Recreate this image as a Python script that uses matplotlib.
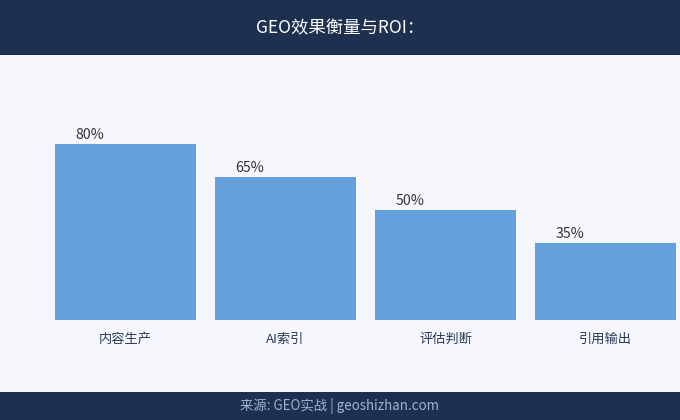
import matplotlib
matplotlib.use("Agg")
import matplotlib.pyplot as plt
from matplotlib.patches import Rectangle

plt.rcParams['font.family'] = ['Noto Sans CJK SC', 'DejaVu Sans']

categories = ["内容生产", "AI索引", "评估判断", "引用输出"]
values = [80, 65, 50, 35]
value_labels = ["80%", "65%", "50%", "35%"]
title = "GEO效果衡量与ROI："
footer = "来源: GEO实战 | geoshizhan.com"

W, H = 680, 420
fig = plt.figure(figsize=(W / 100, H / 100), dpi=100)
fig.patch.set_facecolor("#f6f7fc")

# header and footer bands
fig.patches.append(Rectangle((0, 1 - 55 / H), 1, 55 / H, transform=fig.transFigure,
                             facecolor="#1e3050", edgecolor="none", zorder=0))
fig.patches.append(Rectangle((0, 0), 1, 28 / H, transform=fig.transFigure,
                             facecolor="#1e3050", edgecolor="none", zorder=0))
fig.text(0.5, 1 - 28 / H, title, color="white", fontsize=12.5,
         ha="center", va="center")
fig.text(0.5, 14 / H, footer, color="#9fb2cf", fontsize=9.6,
         ha="center", va="center")

# axes: x from px 45 to 680, y from px 320 (value 0) to px 100 (value 100)
ax = fig.add_axes([45 / W, 100 / H, 635 / W, 220 / H])
ax.set_facecolor("none")
x = list(range(len(categories)))
width = 141 / 160
ax.bar(x, values, width=width, color="#64a0dc")
ax.set_xlim((45 - 125.5) / 160, (680 - 125.5) / 160)
ax.set_ylim(0, 100)
for xi, v, lab in zip(x, values, value_labels):
    ax.annotate(lab, (xi - width / 2, v), xytext=(14.5, 1.5), textcoords="offset points",
                ha="left", va="bottom", fontsize=10.2, color="#333333",
                annotation_clip=False)
ax.set_xticks(x)
ax.set_xticklabels(categories, fontsize=9.5, color="#2a3a55")
ax.tick_params(axis="x", length=0, pad=9)
ax.set_yticks([])
for s in ax.spines.values():
    s.set_visible(False)

fig.savefig("out.png", dpi=100, facecolor=fig.get_facecolor())
